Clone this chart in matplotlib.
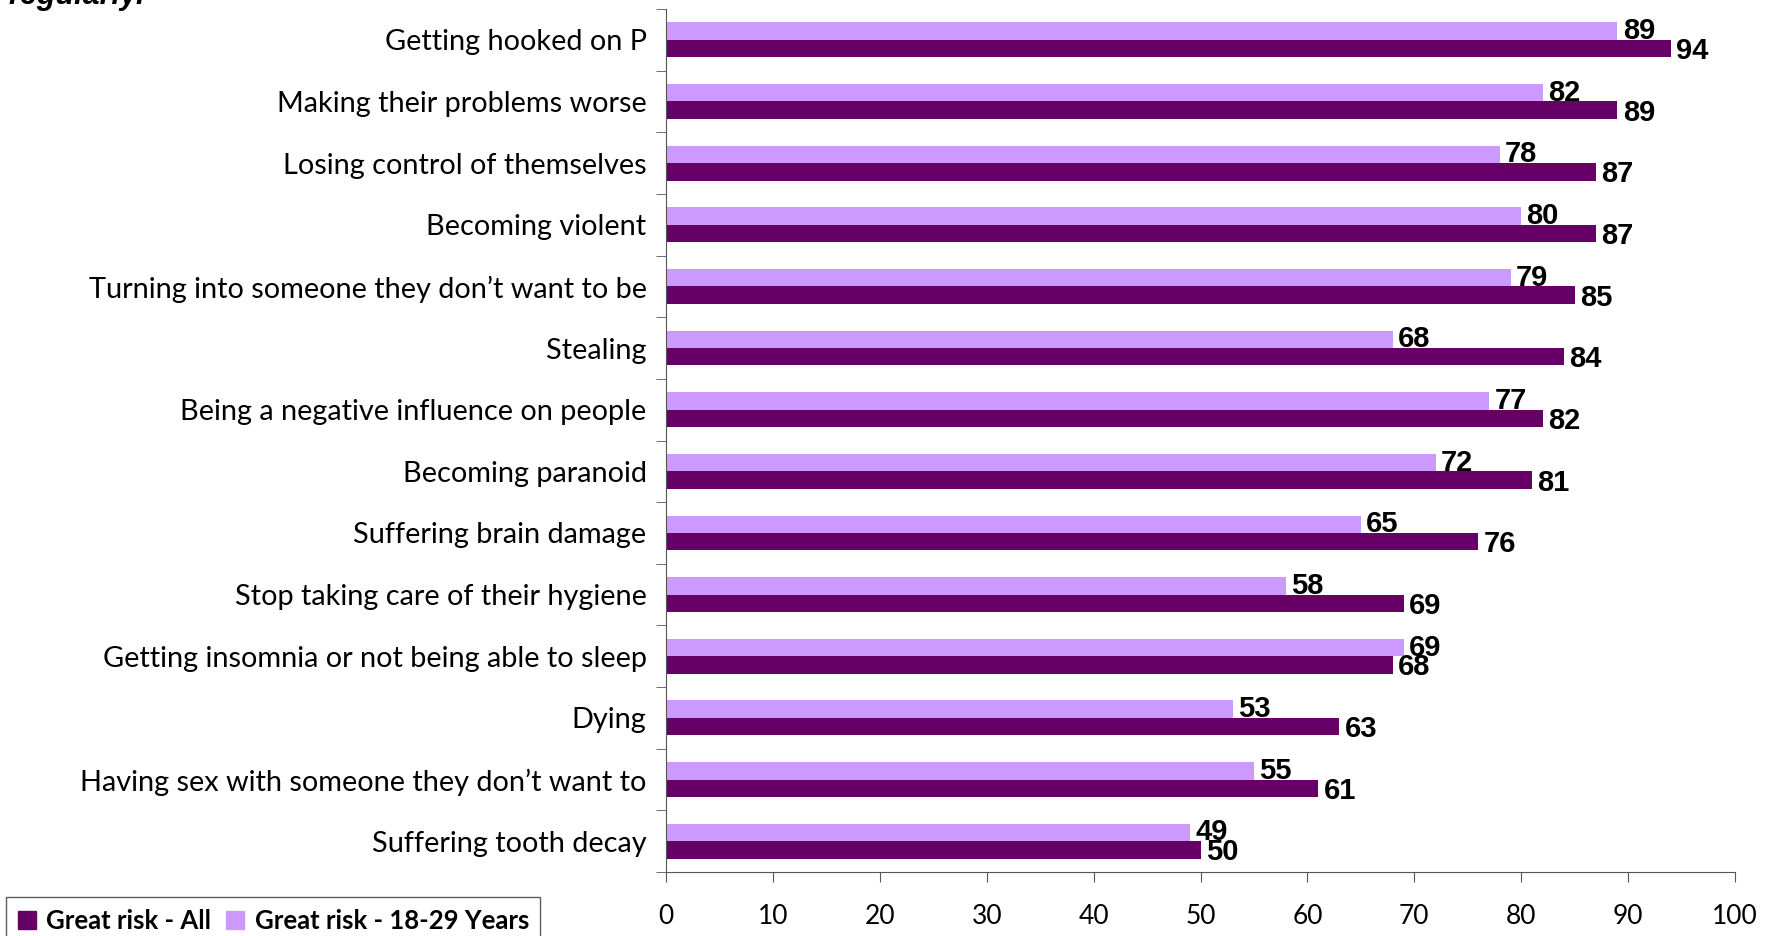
import numpy as np
import matplotlib
matplotlib.use("Agg")
import matplotlib.pyplot as plt
from matplotlib.patches import Patch

# data, top to bottom as in the chart
categories = [
    "Getting hooked on P",
    "Making their problems worse",
    "Losing control of themselves",
    "Becoming violent",
    "Turning into someone they don\u2019t want to be",
    "Stealing",
    "Being a negative influence on people",
    "Becoming paranoid",
    "Suffering brain damage",
    "Stop taking care of their hygiene",
    "Getting insomnia or not being able to sleep",
    "Dying",
    "Having sex with someone they don\u2019t want to",
    "Suffering tooth decay",
]
risk_all = [94, 89, 87, 87, 85, 84, 82, 81, 76, 69, 68, 63, 61, 50]
risk_young = [89, 82, 78, 80, 79, 68, 77, 72, 65, 58, 69, 53, 55, 49]
xticks = [0, 10, 20, 30, 40, 50, 60, 70, 80, 90, 100]

c_all = "#660066"
c_young = "#CC99FF"
lab_font = "Lato"

fig = plt.figure(figsize=(17.69, 9.36), dpi=100)
ax = fig.add_axes([666/1769, 1-872/936, (1735-666)/1769, (872-9)/936])

y = np.arange(len(categories))
h = 0.283
ax.barh(y - h/2, risk_young, height=h, color=c_young, label="Great risk - 18-29 Years")
ax.barh(y + h/2, risk_all, height=h, color=c_all, label="Great risk - All")

for i in range(len(categories)):
    ax.text(risk_young[i] + 0.5, y[i] - h/2 + 0.0, str(risk_young[i]), va="center", ha="left",
            fontsize=21, fontweight="bold", family="Liberation Sans")
    ax.text(risk_all[i] + 0.5, y[i] + h/2 + 0.04, str(risk_all[i]), va="center", ha="left",
            fontsize=21, fontweight="bold", family="Liberation Sans")

ax.set_xlim(0, 100)
ax.set_ylim(len(categories) - 0.5, -0.5)
ax.set_xticks(xticks)
ax.set_xticklabels([str(t) for t in xticks], fontsize=19, family=lab_font)
ax.set_yticks(y)
ax.set_yticklabels(categories, fontsize=20.8, family=lab_font)
ax.set_yticks(np.arange(-0.5, len(categories), 1), minor=True)
ax.tick_params(axis="y", which="major", length=0, pad=14)
ax.tick_params(axis="y", which="minor", length=7, direction="out", color="#555555")
ax.tick_params(axis="x", length=7, direction="out", pad=16, color="#555555")
for s in ["top", "right"]:
    ax.spines[s].set_visible(False)
for s in ["left", "bottom"]:
    ax.spines[s].set_color("#555555")

handles = [Patch(color=c_all, label="Great risk - All"),
           Patch(color=c_young, label="Great risk - 18-29 Years")]
leg = fig.legend(handles=handles, loc="upper left", bbox_to_anchor=(6/1769, 1-897/936),
                 ncol=2, frameon=True, fancybox=False, edgecolor="#333333",
                 prop={"family": lab_font, "weight": "bold", "size": 18.5},
                 handlelength=0.7, handleheight=0.7, handletextpad=0.4, columnspacing=0.6,
                 borderpad=0.45, borderaxespad=0)

# title text cut off at the top of the picture
fig.text(8/1769, 1-4/936, "regularly.", fontsize=22, fontweight="bold", style="italic",
         family="Liberation Sans", va="baseline", ha="left")

fig.savefig("out.png", dpi=100)
